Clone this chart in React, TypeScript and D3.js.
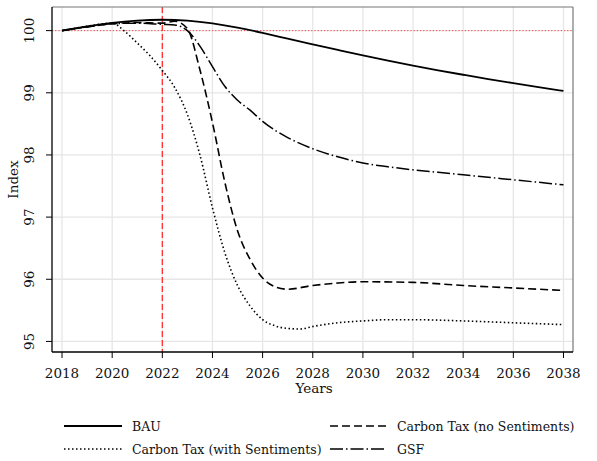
import React from "react";
import * as d3 from "d3";

const xTicks = [2018, 2020, 2022, 2024, 2026, 2028, 2030, 2032, 2034, 2036, 2038];
const yTicks = [95, 96, 97, 98, 99, 100];

const bauYears = [2018, 2019, 2020, 2021, 2022, 2023, 2024, 2025, 2026, 2027, 2028, 2029, 2030, 2031, 2032, 2033, 2034, 2035, 2036, 2037, 2038];
const bauValues = [100, 100.07, 100.13, 100.165, 100.18, 100.165, 100.12, 100.05, 99.965, 99.87, 99.78, 99.69, 99.6, 99.515, 99.435, 99.36, 99.29, 99.22, 99.155, 99.09, 99.03];

const noSentYears = [2018, 2019, 2020, 2021, 2022, 2022.5, 2023, 2023.5, 2024, 2024.5, 2025, 2025.5, 2026, 2026.5, 2027, 2028, 2029, 2030, 2032, 2034, 2036, 2038];
const noSentValues = [100, 100.06, 100.11, 100.13, 100.12, 100.15, 100.03, 99.37, 98.52, 97.55, 96.78, 96.32, 96.02, 95.88, 95.84, 95.9, 95.94, 95.96, 95.95, 95.9, 95.86, 95.82];

const withSentYears = [2018, 2019, 2020, 2020.5, 2021, 2021.5, 2022, 2022.5, 2023, 2023.5, 2024, 2024.5, 2025, 2025.5, 2026, 2026.5, 2027, 2027.5, 2028, 2029, 2030, 2031, 2032, 2034, 2036, 2038];
const withSentValues = [100, 100.07, 100.12, 99.99, 99.8, 99.6, 99.36, 99.08, 98.65, 98.0, 97.15, 96.42, 95.9, 95.57, 95.35, 95.25, 95.21, 95.2, 95.24, 95.3, 95.33, 95.35, 95.35, 95.33, 95.3, 95.27];

const gsfYears = [2018, 2019, 2020, 2021, 2022, 2022.5, 2023, 2023.5, 2024, 2024.5, 2025, 2025.5, 2026, 2027, 2028, 2029, 2030, 2031, 2032, 2033, 2034, 2035, 2036, 2037, 2038];
const gsfValues = [100, 100.06, 100.11, 100.12, 100.1, 100.09, 100.0, 99.75, 99.42, 99.1, 98.88, 98.72, 98.54, 98.28, 98.1, 97.97, 97.87, 97.81, 97.76, 97.72, 97.68, 97.64, 97.6, 97.56, 97.52];

const seriesNames = ["BAU", "Carbon Tax (no Sentiments)", "Carbon Tax (with Sentiments)", "GSF"];

const FONT = "'DejaVu Serif', serif";

export default function App() {
  const W = 597, H = 461;
  const left = 52, right = 573, top = 7, bottom = 352;
  const x = d3.scaleLinear().domain([2017.6, 2038.38]).range([left, right]);
  const y = d3.scaleLinear().domain([94.83, 100.38]).range([bottom, top]);

  const mk = (xs: number[], vs: number[]) =>
    d3.line<number>().x((_, i) => x(xs[i])).y((v) => y(v)).curve(d3.curveMonotoneX)(vs) || "";
  const mkSmooth = (xs: number[], vs: number[]) =>
    d3.line<number>().x((_, i) => x(xs[i])).y((v) => y(v)).curve(d3.curveBasis)(vs) || "";

  const series = [
    { name: seriesNames[0], d: mkSmooth(bauYears, bauValues), dash: "none", w: 1.8 },
    { name: seriesNames[1], d: mk(noSentYears, noSentValues), dash: "8,4", w: 1.6 },
    { name: seriesNames[2], d: mk(withSentYears, withSentValues), dash: "1.5,2.5", w: 1.6 },
    { name: seriesNames[3], d: mk(gsfYears, gsfValues), dash: "13,3,1.5,3", w: 1.5 },
  ];

  const legendPos = [
    { x1: 64, x2: 122, ty: 426, tx: 132 },
    { x1: 330, x2: 387, ty: 426, tx: 397 },
    { x1: 64, x2: 122, ty: 449, tx: 132 },
    { x1: 330, x2: 387, ty: 449, tx: 397 },
  ];

  return (
    <svg width={W} height={H} style={{ position: "absolute", left: 0, top: 0, background: "#fff" }}>
      <rect x={0} y={0} width={W} height={H} fill="#fff" />
      {xTicks.map((t) => (
        <line key={"gx" + t} x1={x(t)} x2={x(t)} y1={top} y2={bottom} stroke="#e6e6e6" strokeWidth={1.3} />
      ))}
      {yTicks.map((t) => (
        <line key={"gy" + t} x1={left} x2={right} y1={y(t)} y2={y(t)} stroke="#e6e6e6" strokeWidth={1.3} />
      ))}
      <line x1={left} x2={right} y1={y(100)} y2={y(100)} stroke="#ff4040" strokeWidth={1} strokeDasharray="1.2,2" />
      <line x1={x(2022)} x2={x(2022)} y1={top} y2={bottom} stroke="#ff3030" strokeWidth={1.3} strokeDasharray="6,3" />
      {series.map((s) => (
        <path key={s.name} d={s.d} fill="none" stroke="#000" strokeWidth={s.w} strokeDasharray={s.dash} />
      ))}
      <line x1={left} x2={right} y1={top} y2={top} stroke="#777" strokeWidth={1.2} />
      <line x1={right} x2={right} y1={top} y2={bottom} stroke="#777" strokeWidth={1.2} />
      <line x1={left} x2={left} y1={top} y2={bottom} stroke="#000" strokeWidth={1.3} />
      <line x1={left} x2={right} y1={bottom} y2={bottom} stroke="#000" strokeWidth={1.3} />
      {xTicks.map((t) => (
        <g key={"tx" + t}>
          <line x1={x(t)} x2={x(t)} y1={bottom} y2={bottom + 6} stroke="#000" strokeWidth={1} />
          <text x={x(t)} y={378} textAnchor="middle" fontFamily={FONT} fontSize={13.5} fill="#111">{t}</text>
        </g>
      ))}
      {yTicks.map((t) => (
        <g key={"ty" + t}>
          <line x1={left - 6} x2={left} y1={y(t)} y2={y(t)} stroke="#000" strokeWidth={1} />
          <text transform={`translate(34,${y(t)}) rotate(-90)`} textAnchor="middle" fontFamily={FONT} fontSize={13.5} fill="#111">{t}</text>
        </g>
      ))}
      <text x={314} y={393} textAnchor="middle" fontFamily={FONT} fontSize={13.5} fill="#111">Years</text>
      <text transform={`translate(18,${(top + bottom) / 2}) rotate(-90)`} textAnchor="middle" fontFamily={FONT} fontSize={13.5} fill="#111">Index</text>
      {series.map((s, i) => (
        <g key={"lg" + i}>
          <line x1={legendPos[i].x1} x2={legendPos[i].x2} y1={legendPos[i].ty} y2={legendPos[i].ty} stroke="#000" strokeWidth={s.w} strokeDasharray={s.dash} />
          <text x={legendPos[i].tx} y={legendPos[i].ty + 4.5} fontFamily={FONT} fontSize={12.5} fill="#111">{s.name}</text>
        </g>
      ))}
    </svg>
  );
}
